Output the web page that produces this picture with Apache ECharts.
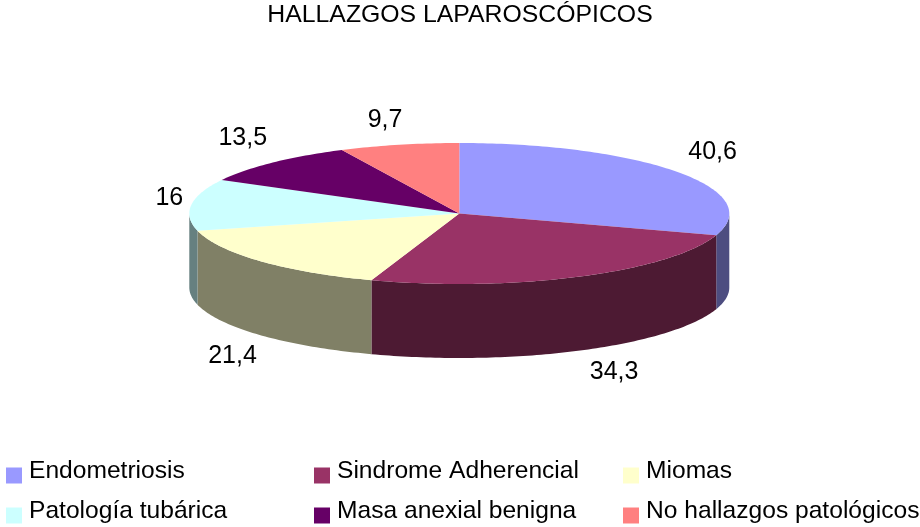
<!DOCTYPE html>
<html>
<head>
<meta charset="utf-8">
<title>Hallazgos laparoscópicos</title>
<script src="https://cdn.jsdelivr.net/npm/echarts@6/dist/echarts.min.js"></script>
<style>
html, body { margin: 0; padding: 0; background: #fff; }
#chart { width: 920px; height: 527px; }
</style>
</head>
<body>
<div id="chart"></div>
<script>
// datos
const categories = ['Endometriosis', 'Sindrome Adherencial', 'Miomas', 'Patología tubárica', 'Masa anexial benigna', 'No hallazgos patológicos'];
const values = [40.6, 34.3, 21.4, 16, 13.5, 9.7];

const topColors = ['#9999ff', '#993366', '#ffffcc', '#ccffff', '#660066', '#ff8080'];
const sideColors = ['#4d4d80', '#4d1a33', '#808066', '#668080', '#330033', '#804040'];
// desplazamiento de cada etiqueta respecto al borde de su sector
const labelOffsets = [[35, -20], [34, 22], [-28, 21], [-22, -7], [-30, -24], [-14, -25]];

const FONT = '"Liberation Sans", Arial, sans-serif';
const CX = 459.3, CY = 213.5, RX = 270, RY = 70.5, DEPTH = 74;
const legendLefts = [6, 314, 623];
const legendTops = [459, 499];
const total = values.reduce((a, b) => a + b, 0);

function rad(deg) {
	return deg * Math.PI / 180;
}
// angulo en grados, desde arriba y en sentido horario
function ellipsePoint(deg, dy) {
	return [CX + RX * Math.sin(rad(deg)), CY - RY * Math.cos(rad(deg)) + dy];
}
function arc(from, to, dy) {
	const pts = [];
	const steps = Math.max(2, Math.ceil(Math.abs(to - from)));
	for (let i = 0; i <= steps; i++) {
		pts.push(ellipsePoint(from + (to - from) * i / steps, dy));
	}
	return pts;
}

function renderSlice(params, api) {
	const i = params.seriesIndex;
	const start = values.slice(0, i).reduce((a, b) => a + b, 0) / total * 360;
	const end = start + api.value(0) / total * 360;
	const mid = (start + end) / 2;
	const children = [];

	// pared lateral, solo la mitad delantera
	const sideFrom = Math.max(start, 90);
	const sideTo = Math.min(end, 270);
	if (sideTo > sideFrom) {
		children.push({
			type: 'polygon',
			shape: { points: arc(sideFrom, sideTo, 0).concat(arc(sideTo, sideFrom, DEPTH)) },
			style: { fill: sideColors[i] }
		});
	}
	children.push({
		type: 'polygon',
		shape: { points: [[CX, CY]].concat(arc(start, end, 0)) },
		style: { fill: topColors[i] }
	});

	// las etiquetas de abajo se miden desde el borde inferior del canto
	const front = mid > 90 && mid < 270;
	const anchor = ellipsePoint(mid, front ? DEPTH : 0);
	children.push({
		type: 'text',
		style: {
			x: anchor[0] + labelOffsets[i][0],
			y: anchor[1] + labelOffsets[i][1],
			text: String(api.value(0)).replace('.', ','),
			fill: '#000',
			font: '25px ' + FONT,
			align: 'center',
			verticalAlign: 'middle'
		}
	});
	return { type: 'group', children };
}

// una leyenda por entrada: dos filas y tres columnas alineadas
function legendItem(name, i) {
	return {
		left: legendLefts[i % 3],
		top: legendTops[Math.floor(i / 3)],
		padding: 0,
		itemWidth: 16,
		itemHeight: 16,
		icon: 'rect',
		selectedMode: false,
		data: [name],
		// la linea vacia sube el texto respecto al cuadrado, como en el original
		formatter: n => n + '\n ',
		textStyle: { fontFamily: FONT, fontSize: 24.6, color: '#000', lineHeight: 8, padding: [0, 0, 0, 2] }
	};
}

const chart = echarts.init(document.getElementById('chart'));
chart.setOption({
	backgroundColor: '#fff',
	animation: false,
	title: {
		text: 'HALLAZGOS LAPAROSCÓPICOS',
		left: 455,
		top: -2,
		textAlign: 'center',
		textStyle: { fontFamily: FONT, fontSize: 24.8, fontWeight: 'normal', color: '#000' }
	},
	legend: categories.map(legendItem),
	series: categories.map((name, i) => ({
		type: 'custom',
		name,
		coordinateSystem: 'none',
		silent: true,
		itemStyle: { color: topColors[i] },
		renderItem: renderSlice,
		data: [[values[i]]]
	}))
});
</script>
</body>
</html>
